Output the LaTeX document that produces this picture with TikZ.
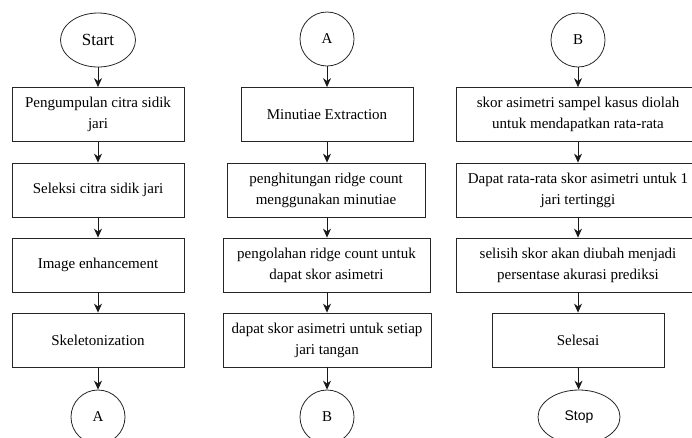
\documentclass[tikz,border=0pt]{standalone}
\usepackage{fontspec}
\setmainfont{Liberation Serif}
\newfontfamily\arialfont{Liberation Sans}
\usetikzlibrary{arrows.meta,shapes.geometric}
\begin{document}
\begin{tikzpicture}[x=1pt,y=-1pt,
  every node/.style={draw=black!85, line width=0.8pt, inner sep=2pt, align=center, font=\fontsize{15}{21}\selectfont},
  box/.style={rectangle, minimum height=54pt},
  conn/.style={circle, minimum size=54pt, inner sep=0pt},
  term/.style={ellipse, minimum width=75pt, minimum height=54pt, inner sep=0pt},
  arr/.style={draw=black!90, line width=0.8pt, -{Stealth[length=9pt,width=8pt]}}
]
\useasboundingbox (0,0) rectangle (692,437);
\clip (0,0) rectangle (692,437);
% column 1
\node[term, font=\fontsize{17}{19}\selectfont] (start) at (98,40) {Start};
\node[box, minimum width=172pt] (b11) at (98,114.5) {Pengumpulan citra sidik\\jari};
\node[box, minimum width=172pt] (b12) at (98,190) {Seleksi citra sidik jari};
\node[box, minimum width=172pt] (b13) at (98,265) {Image enhancement};
\node[box, minimum width=172pt] (b14) at (98,340) {Skeletonization};
\node[conn] (a1) at (98,417) {A};
% column 2
\node[conn] (a2) at (327,39) {A};
\node[box, minimum width=172pt] (b21) at (327,114.5) {Minutiae Extraction};
\node[box, minimum width=198pt] (b22) at (326,190) {penghitungan ridge count\\menggunakan minutiae};
\node[box, minimum width=207pt] (b23) at (326.5,265) {pengolahan ridge count untuk\\dapat skor asimetri};
\node[box, minimum width=208pt] (b24) at (327,340) {dapat skor asimetri untuk setiap\\jari tangan};
\node[conn] (bb2) at (327,417) {B};
% column 3
\node[conn] (bb3) at (578,40) {B};
\node[box, minimum width=244pt] (b31) at (578,114.5) {skor asimetri sampel kasus diolah\\untuk mendapatkan rata-rata};
\node[box, minimum width=244pt] (b32) at (578,190) {Dapat rata-rata skor asimetri untuk 1\\jari tertinggi};
\node[box, minimum width=244pt] (b33) at (578,265) {selisih skor akan diubah menjadi\\persentase akurasi prediksi};
\node[box, minimum width=172pt] (b34) at (578,340) {Selesai};
\node[term, minimum width=82pt, font=\arialfont\fontsize{14}{17}\selectfont] (stop) at (579,417) {Stop};
% connectors
\draw[arr] (start) -- (b11);
\draw[arr] (b11) -- (b12);
\draw[arr] (b12) -- (b13);
\draw[arr] (b13) -- (b14);
\draw[arr] (b14) -- (a1);
\draw[arr] (a2) -- (b21);
\draw[arr] (b21) -- (b21 |- b22.north);
\draw[arr] (b22.south -| b21) -- (b21 |- b23.north);
\draw[arr] (b23.south -| b21) -- (b21 |- b24.north);
\draw[arr] (b24.south -| b21) -- (bb2);
\draw[arr] (bb3) -- (b31);
\draw[arr] (b31) -- (b32);
\draw[arr] (b32) -- (b33);
\draw[arr] (b33) -- (b34);
\draw[arr] (b34) -- (stop);
\end{tikzpicture}
\end{document}
